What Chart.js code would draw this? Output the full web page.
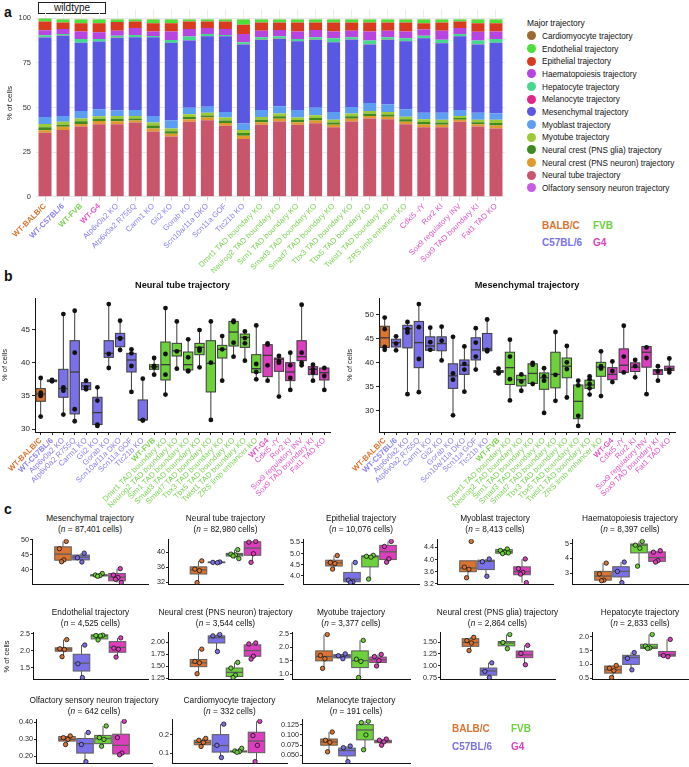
<!DOCTYPE html>
<html>
<head>
<meta charset="utf-8">
<script src="https://cdn.jsdelivr.net/npm/chart.js@4.4.1/dist/chart.umd.min.js"></script>
<style>
  body { margin: 0; width: 689px; height: 767px; position: relative; overflow: hidden; background: #fff;
         font-family: 'Liberation Sans', Arial, Helvetica, sans-serif; color: #111; }
  canvas { position: absolute; }
  .abs { position: absolute; white-space: nowrap; }
  .panel { font-weight: bold; font-size: 14px; }
  .lg { position: absolute; left: 527px; font-size: 8.2px; line-height: 10px; white-space: nowrap; }
  .dot { display: inline-block; width: 9px; height: 9px; border-radius: 50%; vertical-align: middle; margin-right: 6px; position: relative; top: -1px; }
  .strain { position: absolute; font-weight: bold; font-size: 10px; }
  .ctitle { position: absolute; width: 200px; text-align: center; font-size: 8.3px; line-height: 10.5px; }
  .btitle { position: absolute; width: 240px; text-align: center; font-size: 9.2px; font-weight: bold; }
  .ylab { position: absolute; font-size: 7.5px; transform: rotate(-90deg); transform-origin: center; white-space: nowrap; }
</style>
</head>
<body>
<div class="abs panel" style="left:4px;top:4px;">a</div>
<div class="abs panel" style="left:4px;top:268px;">b</div>
<div class="abs panel" style="left:4px;top:501px;">c</div>
<div class="abs" style="left:38px;top:2px;width:66px;height:10px;border:1px solid #222;background:#fff;font-size:10px;line-height:10px;text-align:center;">wildtype</div>

<script>
// ---------- shared ----------
const STRAIN_COLORS = { B: '#DA7430', C: '#7A71E8', F: '#6CD13B', G: '#DC3FBE' };
const STRAIN_LABEL_COLORS = { B: '#D9732E', C: '#8A83EE', F: '#7CD455', G: '#E057C6' };

// ---------- panel a ----------
const A_SAMPLES = ['WT-BALB/C', 'WT-C57BL/6', 'WT-FVB', 'WT-G4', 'Atp6v0a2 KO', 'Atp6v0a2 R755Q', 'Carm1 KO', 'Gli2 KO',
  'Gorab KO', 'Scn10a/11a DKO', 'Scn11a GOF', 'Ttc21b KO', 'Dmrt1 TAD boundary KO', 'Neurog2 TAD boundary KO',
  'Sim1 TAD boundary KO', 'Smad3 TAD boundary KO', 'Smad7 TAD boundary KO', 'Tbx3 TAD boundary KO', 'Tbx5 TAD boundary KO',
  'Twist1 TAD boundary KO', 'ZRS limb enhancer KO', 'Cdkl5 -/Y', 'Ror2 KI', 'Sox9 regulatory INV', 'Sox9 TAD boundary KI', 'Fat1 TAD KO'];
const A_STRAIN = ['B', 'C', 'F', 'G', 'C', 'C', 'C', 'C', 'C', 'C', 'C', 'C', 'F', 'F', 'F', 'F', 'F', 'F', 'F', 'F', 'F', 'G', 'G', 'G', 'G', 'G'];

const OLFACTORY = [0.3, 0.3, 0.3, 0.3, 0.3, 0.3, 0.3, 0.3, 0.3, 0.3, 0.3, 0.3, 0.3, 0.3, 0.3, 0.3, 0.3, 0.3, 0.3, 0.3, 0.3, 0.3, 0.3, 0.3, 0.3, 0.3];
const NEURAL_TUBE = [35.5, 37.1, 39.1, 40.4, 40.4, 41.3, 36.3, 33.4, 41.7, 42.6, 39.5, 32.1, 40.0, 41.9, 40.0, 40.9, 38.6, 41.9, 43.5, 43.2, 40.4, 38.6, 38.6, 41.7, 39.1, 38.0];
const NC_NEURON = [1.5, 1.8, 1.4, 1.8, 1.6, 1.2, 1.7, 1.6, 1.5, 1.5, 1.6, 1.8, 1.5, 1.5, 1.4, 1.6, 1.4, 1.5, 1.4, 1.3, 1.4, 1.6, 1.4, 1.1, 1.2, 1.6];
const NC_GLIA = [1.7, 1.2, 1.5, 1.2, 1.4, 1.1, 1.6, 1.4, 1.2, 1.2, 1.4, 1.5, 1.4, 1.4, 1.3, 1.4, 1.3, 1.4, 1.3, 1.3, 1.3, 1.4, 1.3, 1.0, 1.2, 1.5];
const MYOTUBE = [1.8, 1.6, 1.5, 1.4, 1.6, 1.4, 1.7, 1.6, 1.5, 1.5, 1.6, 1.7, 1.5, 1.5, 1.4, 1.5, 1.5, 1.5, 1.5, 1.4, 1.5, 1.6, 1.5, 1.2, 1.3, 1.7];
const MYOBLAST = [3.9, 3.3, 4.2, 3.9, 3.1, 3.3, 3.7, 4.6, 3.7, 3.3, 3.1, 3.7, 3.9, 4.2, 4.2, 4.2, 4.4, 3.7, 4.6, 4.2, 4.1, 3.6, 4.0, 3.3, 4.0, 3.7];
const MESENCHYMAL = [44.6, 45.0, 38.3, 38.0, 40.6, 40.8, 44.1, 43.4, 37.7, 39.6, 42.5, 44.3, 39.3, 37.7, 38.6, 38.0, 39.1, 37.8, 32.8, 36.2, 38.2, 41.8, 39.0, 41.4, 38.3, 39.5];
const MELANOCYTE = [0.1, 0.1, 0.1, 0.1, 0.1, 0.1, 0.1, 0.1, 0.1, 0.1, 0.1, 0.1, 0.1, 0.1, 0.1, 0.1, 0.1, 0.1, 0.1, 0.1, 0.1, 0.1, 0.1, 0.1, 0.1, 0.1];
const HEPATOCYTE = [1.2, 0.8, 2.1, 1.4, 1.2, 1.2, 0.6, 1.5, 2.1, 1.1, 0.6, 1.1, 1.4, 1.4, 1.2, 1.4, 2.2, 1.2, 2.1, 1.4, 1.6, 1.3, 1.9, 1.1, 2.1, 2.1];
const HAEMATOPOIESIS = [2.8, 2.8, 4.2, 3.7, 2.8, 3.9, 2.6, 4.8, 4.2, 3.4, 3.3, 4.6, 3.7, 3.45, 4.2, 4.05, 3.8, 3.7, 5.1, 3.7, 3.8, 3.5, 5.0, 3.4, 4.9, 4.2];
const EPITHELIAL = [4.9, 3.7, 4.6, 5.1, 4.9, 3.6, 4.6, 4.6, 4.2, 3.6, 4.2, 5.2, 4.6, 4.25, 5.0, 4.25, 5.0, 4.6, 5.0, 4.6, 5.0, 3.5, 4.6, 3.6, 4.8, 4.6];
const ENDOTHELIAL = [1.55, 1.7, 2.1, 2.1, 1.4, 1.2, 2.1, 2.1, 1.2, 1.2, 1.2, 3.0, 1.7, 1.7, 1.7, 1.7, 1.7, 1.7, 1.7, 1.7, 1.7, 2.1, 1.7, 1.2, 2.1, 2.1];
const CARDIOMYOCYTE = [0.15, 0.15, 0.15, 0.15, 0.15, 0.15, 0.15, 0.15, 0.15, 0.15, 0.15, 0.15, 0.15, 0.15, 0.15, 0.15, 0.15, 0.15, 0.15, 0.15, 0.15, 0.15, 0.15, 0.15, 0.15, 0.15];

// stacking order bottom -> top, with legend names and colours
const TRAJ_STACK = [
  ['Olfactory sensory neuron trajectory', OLFACTORY, '#C65BE4'],
  ['Neural tube trajectory', NEURAL_TUBE, '#C8556A'],
  ['Neural crest (PNS neuron) trajectory', NC_NEURON, '#E0992B'],
  ['Neural crest (PNS glia) trajectory', NC_GLIA, '#3F8A1F'],
  ['Myotube trajectory', MYOTUBE, '#9ACB34'],
  ['Myoblast trajectory', MYOBLAST, '#5B9EF2'],
  ['Mesenchymal trajectory', MESENCHYMAL, '#5A58E2'],
  ['Melanocyte trajectory', MELANOCYTE, '#E0288A'],
  ['Hepatocyte trajectory', HEPATOCYTE, '#44D98C'],
  ['Haematopoiesis trajectory', HAEMATOPOIESIS, '#B645E2'],
  ['Epithelial trajectory', EPITHELIAL, '#D93B1F'],
  ['Endothelial trajectory', ENDOTHELIAL, '#4EE03A'],
  ['Cardiomyocyte trajectory', CARDIOMYOCYTE, '#9E6A2E']
];

// ---------- panel b ----------
const B_SAMPLES = ['WT-BALB/C', 'WT-C57BL/6', 'Atp6v0a2 KO', 'Atp6v0a2 R755Q', 'Carm1 KO', 'Gli2 KO', 'Gorab KO',
  'Scn10a/11a DKO', 'Scn11a GOF', 'Ttc21b KO', 'WT-FVB', 'Dmrt1 TAD boundary KO', 'Neurog2 TAD boundary KO',
  'Sim1 TAD boundary KO', 'Smad3 TAD boundary KO', 'Smad7 TAD boundary KO', 'Tbx3 TAD boundary KO', 'Tbx5 TAD boundary KO',
  'Twist1 TAD boundary KO', 'ZRS limb enhancer KO', 'WT-G4', 'Cdkl5 -/Y', 'Ror2 KI', 'Sox9 regulatory INV',
  'Sox9 TAD boundary KI', 'Fat1 TAD KO'];
const B_STRAIN = ['B', 'C', 'C', 'C', 'C', 'C', 'C', 'C', 'C', 'C', 'F', 'F', 'F', 'F', 'F', 'F', 'F', 'F', 'F', 'F', 'G', 'G', 'G', 'G', 'G', 'G'];

// [min, q1, median, q3, max]
const NT_BOX = [[31.9, 34.2, 35.3, 36.1, 37.7], [37.1, 37.15, 37.3, 37.4, 37.5], [32.1, 34.8, 36.1, 39.0, 47.3],
  [31.2, 32.3, 38.6, 43.3, 47.8], [35.9, 35.95, 36.5, 37.0, 37.3], [30.5, 30.7, 32.5, 34.8, 36.3], [39.2, 40.8, 41.4, 43.3, 48.8],
  [41.9, 42.4, 43.7, 44.4, 46.3], [35.6, 38.6, 40.4, 41.4, 42.1], [31.3, 31.4, 31.4, 34.4, 37.6], [38.2, 39.0, 39.4, 39.7, 40.8],
  [35.2, 37.4, 39.7, 43.1, 48.2], [39.1, 41.0, 41.8, 42.9, 46.2], [38.7, 38.9, 39.7, 41.6, 43.5], [39.3, 41.2, 42.3, 42.9, 44.9],
  [31.4, 35.6, 39.9, 43.3, 46.2], [37.3, 40.7, 42.0, 42.6, 44.0], [40.9, 42.5, 44.6, 46.2, 46.3], [40.3, 42.3, 43.8, 44.3, 44.7],
  [37.5, 38.5, 39.1, 41.2, 45.6], [37.3, 37.9, 41.1, 42.7, 42.9], [34.9, 38.7, 40.5, 40.7, 41.0], [35.9, 37.3, 38.6, 40.0, 41.5],
  [39.6, 40.3, 40.9, 43.3, 48.7], [37.3, 38.2, 39.0, 39.4, 39.7], [35.9, 37.4, 38.5, 39.2, 39.4]];
const NT_PTS = [[37.7, 35.5, 35.1, 35.0, 31.9], [37.4, 37.3, 37.2], [47.3, 36.3, 35.8, 32.2], [47.8, 41.5, 33.0, 31.2],
  [37.3, 36.3, 36.0], [36.3, 34.3, 30.7, 30.5], [48.8, 41.3, 39.2], [46.3, 43.7, 43.6, 41.9], [42.0, 41.4, 39.5, 35.6],
  [37.6, 31.4, 31.3], [40.7, 39.5, 39.3, 38.2], [48.2, 41.3, 38.2, 35.2], [46.2, 41.7, 39.1], [43.5, 40.8, 38.8, 38.7],
  [44.9, 42.1, 41.8, 39.3], [46.2, 40.0, 31.4], [44.0, 42.0, 37.3], [46.3, 46.1, 43.0, 40.9], [44.7, 43.7, 42.9, 40.3],
  [45.6, 39.8, 38.6, 37.5], [42.9, 42.7, 39.6, 37.3], [41.0, 40.2, 40.0, 34.9], [41.5, 39.6, 37.7, 35.9], [48.7, 41.5, 40.0, 39.6],
  [39.7, 39.0, 38.5, 37.3], [39.2, 38.0, 35.9]];

const MES_BOX = [[42.7, 43.2, 45.2, 47.6, 49.4], [42.6, 43.3, 44.2, 44.9, 45.5], [33.5, 43.1, 47.1, 47.8, 48.5],
  [33.9, 39.0, 44.2, 48.6, 52.2], [42.5, 42.6, 43.5, 45.4, 47.3], [40.5, 42.5, 44.0, 45.4, 47.6], [29.1, 34.7, 37.3, 39.8, 45.6],
  [34.0, 37.6, 39.5, 40.6, 43.5], [38.6, 40.6, 42.7, 45.2, 47.3], [42.2, 42.5, 42.9, 46.1, 49.2], [37.8, 38.0, 38.2, 38.4, 38.9],
  [32.2, 35.5, 39.0, 42.2, 44.9], [34.2, 35.2, 36.5, 37.4, 38.0], [35.6, 35.7, 37.8, 39.8, 40.1], [29.6, 34.5, 36.9, 37.9, 38.9],
  [32.1, 34.8, 37.6, 42.2, 46.6], [32.9, 36.9, 39.3, 41.0, 43.7], [27.0, 28.4, 32.0, 35.4, 36.4], [33.3, 34.7, 35.4, 36.4, 37.2],
  [33.1, 37.2, 39.1, 40.1, 42.5], [36.1, 36.5, 37.6, 39.0, 40.5], [37.9, 38.0, 39.5, 42.9, 47.8], [36.9, 38.2, 39.1, 40.0, 40.8],
  [33.5, 39.1, 42.2, 43.4, 43.5], [36.3, 37.6, 38.4, 38.6, 39.5], [38.1, 38.4, 38.8, 39.3, 41.0]];
const MES_PTS = [[49.4, 47.0, 43.3, 42.7], [45.5, 44.0, 42.6], [48.5, 47.0, 46.3, 33.5], [52.2, 47.4, 40.8, 33.9],
  [47.3, 44.3, 42.7], [47.5, 44.6, 40.5], [45.4, 37.8, 36.5, 29.1], [43.4, 39.8, 38.6, 34.0], [47.2, 44.2, 41.3, 38.6],
  [49.0, 42.7, 42.4], [38.8, 38.0, 37.8], [44.8, 41.3, 36.6, 32.2], [37.6, 36.1, 34.2], [40.0, 39.6, 35.6],
  [38.9, 37.2, 36.3, 29.6], [46.4, 37.5, 32.1], [43.5, 40.1, 38.7, 32.8], [36.3, 35.3, 29.0, 26.9], [37.2, 36.6, 35.6, 34.7, 33.4],
  [42.4, 39.3, 38.8, 33.1], [40.3, 38.3, 36.0], [47.7, 41.3, 38.0], [40.6, 39.3, 37.0], [43.2, 41.0, 33.5], [39.3, 38.2, 36.3],
  [40.9, 38.6, 38.0]];

// ---------- panel c (groups: BALB/C, C57BL/6, FVB, G4) ----------
const C_GROUPS = ['B', 'C', 'F', 'G'];
const C_TITLES = ['Mesenchymal trajectory', 'Neural tube trajectory', 'Epithelial trajectory', 'Myoblast trajectory',
  'Haematopoiesis trajectory', 'Endothelial trajectory', 'Neural crest (PNS neuron) trajectory', 'Myotube trajectory',
  'Neural crest (PNS glia) trajectory', 'Hepatocyte trajectory', 'Olfactory sensory neuron trajectory',
  'Cardiomyocyte trajectory', 'Melanocyte trajectory'];
const C_CELLS = ['87,401', '82,980', '10,076', '8,413', '8,397', '4,525', '3,544', '3,377', '2,864', '2,833', '642', '332', '191'];
const C_STEPS = [5, 4, 0.5, 0.4, 1, 0.5, 0.25, 0.5, 0.25, 0.5, 0.05, 0.1, 0.025];
const C_DECIMALS = [0, 0, 1, 1, 0, 1, 2, 1, 2, 1, 2, 1, 3];

const MES_C_BOX = [[42.7, 43.2, 45.2, 47.6, 49.4], [42.6, 43.3, 44.2, 44.9, 45.5], [37.9, 38.0, 38.2, 38.4, 38.8], [35.8, 36.4, 37.6, 38.8, 40.4]];
const MES_C_PTS = [[49.4, 47.0, 43.3, 42.7], [45.5, 44.0, 42.6], [38.8, 38.3, 38.1, 37.9], [40.4, 38.3, 37.5, 36.9, 35.8]];
const NT_C_BOX = [[31.9, 34.2, 35.3, 36.1, 37.7], [37.2, 37.2, 37.3, 37.4, 37.4], [38.3, 39.0, 39.4, 39.7, 40.7], [37.3, 39.2, 41.1, 42.8, 42.9]];
const NT_C_PTS = [[37.7, 35.5, 35.1, 31.9], [37.4, 37.3, 37.2], [40.7, 39.5, 39.3, 39.0, 38.3], [42.9, 42.7, 39.6, 37.3]];
const EPI_C_BOX = [[4.3, 4.44, 4.58, 4.7, 4.91], [3.69, 3.73, 3.85, 4.15, 4.6], [3.85, 4.4, 4.86, 4.9, 4.92], [4.61, 4.73, 5.08, 5.37, 5.55]];
const EPI_C_PTS = [[4.91, 4.6, 4.55, 4.3], [4.6, 3.8, 3.72, 3.69], [4.92, 4.88, 4.84, 3.85], [5.55, 5.32, 4.76, 4.61]];
const MYOB_C_BOX = [[3.4, 3.6, 3.72, 3.96, 3.96], [3.45, 3.67, 3.94, 3.98, 4.02], [4.2, 4.21, 4.26, 4.33, 4.35], [3.24, 3.5, 3.6, 3.76, 4.02]];
const MYOB_C_PTS = [[4.6, 3.75, 3.68, 3.4], [4.02, 3.93, 3.45], [4.35, 4.3, 4.24, 4.2, 4.22], [4.02, 3.7, 3.58, 3.52, 3.24]];
const HAEM_C_BOX = [[2.47, 2.51, 2.79, 3.11, 3.68], [2.34, 2.73, 3.11, 3.43, 3.75], [3.47, 4.38, 4.91, 4.99, 5.17], [3.75, 3.8, 4.06, 4.45, 4.53]];
const HAEM_C_PTS = [[3.68, 2.94, 2.51, 2.47], [3.75, 3.11, 2.34], [5.17, 4.91, 4.7, 3.47], [4.53, 4.43, 3.85, 3.75]];
const ENDO_C_BOX = [[1.83, 1.99, 2.05, 2.09, 2.33], [1.22, 1.41, 1.64, 1.9, 2.17], [2.32, 2.35, 2.44, 2.47, 2.48], [1.82, 1.96, 2.1, 2.27, 2.38]];
const ENDO_C_PTS = [[2.33, 2.06, 2.04, 1.83], [2.17, 1.62, 1.22], [2.46, 2.45, 2.44, 2.32], [2.38, 2.08, 2.05, 1.82]];
const NEUR_C_BOX = [[1.34, 1.49, 1.57, 1.64, 1.86], [1.81, 1.99, 2.1, 2.14, 2.17], [1.26, 1.28, 1.37, 1.46, 1.58], [1.65, 1.71, 1.83, 1.95, 1.99]];
const NEUR_C_PTS = [[1.86, 1.6, 1.57, 1.34], [2.17, 2.14, 1.81], [1.58, 1.46, 1.31, 1.26], [1.99, 1.97, 1.71, 1.65]];
const MYOT_C_BOX = [[1.21, 1.49, 1.65, 1.86, 2.47], [1.55, 1.6, 1.67, 1.72, 1.75], [0.87, 1.24, 1.5, 1.86, 2.25], [1.3, 1.43, 1.53, 1.63, 1.73]];
const MYOT_C_PTS = [[2.47, 1.69, 1.57, 1.21], [1.75, 1.68, 1.57], [2.25, 1.55, 1.47, 0.87], [1.73, 1.65, 1.5, 1.3]];
const GLIA_C_BOX = [[1.32, 1.41, 1.49, 1.57, 1.6], [0.75, 0.8, 0.89, 0.95, 1.06], [1.36, 1.42, 1.48, 1.51, 1.66], [1.02, 1.17, 1.23, 1.31, 1.43]];
const GLIA_C_PTS = [[1.6, 1.53, 1.48, 1.32], [1.06, 0.88, 0.75], [1.66, 1.49, 1.36], [1.43, 1.26, 1.02]];
const HEP_C_BOX = [[0.52, 0.68, 0.8, 0.94, 0.96], [0.8, 1.0, 1.25, 1.33, 1.43], [1.57, 1.58, 1.63, 1.73, 2.09], [1.28, 1.3, 1.35, 1.47, 1.91]];
const HEP_C_PTS = [[0.96, 0.86, 0.77, 0.52], [1.43, 1.22, 0.8], [2.09, 1.67, 1.6, 1.58], [1.91, 1.32, 1.28]];
const OLF_C_BOX = [[0.27, 0.29, 0.3, 0.316, 0.32], [0.17, 0.22, 0.275, 0.305, 0.34], [0.26, 0.275, 0.305, 0.323, 0.378], [0.21, 0.215, 0.265, 0.33, 0.405]];
const OLF_C_PTS = [[0.32, 0.31, 0.3, 0.27], [0.34, 0.27, 0.17], [0.378, 0.31, 0.3, 0.26], [0.405, 0.31, 0.22, 0.21]];
const CARD_C_BOX = [[0.137, 0.146, 0.158, 0.17, 0.18], [0.078, 0.107, 0.142, 0.2, 0.256], [0.105, 0.108, 0.11, 0.113, 0.127], [0.056, 0.104, 0.166, 0.213, 0.271]];
const CARD_C_PTS = [[0.18, 0.17, 0.158, 0.137], [0.256, 0.143, 0.078], [0.127, 0.113, 0.11, 0.106], [0.271, 0.195, 0.143, 0.056]];
const MEL_C_BOX = [[0.059, 0.075, 0.083, 0.09, 0.107], [0.035, 0.049, 0.062, 0.068, 0.073], [0.064, 0.088, 0.112, 0.125, 0.133], [0.075, 0.081, 0.084, 0.087, 0.09]];
const MEL_C_PTS = [[0.107, 0.087, 0.082, 0.059], [0.073, 0.069, 0.035], [0.133, 0.13, 0.1, 0.064], [0.09, 0.087, 0.083, 0.075]];

const C_BOXES = [MES_C_BOX, NT_C_BOX, EPI_C_BOX, MYOB_C_BOX, HAEM_C_BOX, ENDO_C_BOX, NEUR_C_BOX, MYOT_C_BOX, GLIA_C_BOX, HEP_C_BOX, OLF_C_BOX, CARD_C_BOX, MEL_C_BOX];
const C_POINTS = [MES_C_PTS, NT_C_PTS, EPI_C_PTS, MYOB_C_PTS, HAEM_C_PTS, ENDO_C_PTS, NEUR_C_PTS, MYOT_C_PTS, GLIA_C_PTS, HEP_C_PTS, OLF_C_PTS, CARD_C_PTS, MEL_C_PTS];
const JITTER = [0.18, -0.2, 0.05, -0.08, 0.24];

// ---------- helpers ----------
Chart.defaults.font.family = "'Liberation Sans', Arial, Helvetica, sans-serif";
Chart.defaults.color = '#222';

function addCanvas(left, top, w, h) {
  const c = document.createElement('canvas');
  c.width = w; c.height = h;
  c.style.left = left + 'px'; c.style.top = top + 'px';
  c.style.width = w + 'px'; c.style.height = h + 'px';
  document.body.appendChild(c);
  return c;
}
function addDiv(cls, left, top, html, style) {
  const d = document.createElement('div');
  d.className = cls;
  d.style.left = left + 'px'; d.style.top = top + 'px';
  if (style) d.style.cssText += style;
  d.innerHTML = html;
  document.body.appendChild(d);
  return d;
}
// ggplot-like 5% expansion of the y range
function expanded(boxes, pts) {
  const all = boxes.flat().concat(pts.flat());
  const lo = Math.min(...all), hi = Math.max(...all), r = hi - lo;
  return [lo - 0.05 * r, hi + 0.05 * r];
}

// draws whiskers, boxes and medians through the chart scales
function boxLayer(boxes, fills, width, edge) {
  return {
    id: 'boxLayer',
    beforeDatasetsDraw(chart) {
      const { ctx, scales: { x, y } } = chart;
      ctx.save();
      boxes.forEach((b, i) => {
        const cx = x.getPixelForValue(i);
        const half = Math.abs(x.getPixelForValue(i + width / 2) - cx);
        const [mn, q1, md, q3, mx] = b.map(v => y.getPixelForValue(v));
        ctx.strokeStyle = edge; ctx.lineWidth = 1;
        ctx.beginPath();
        ctx.moveTo(cx, mn); ctx.lineTo(cx, q1);
        ctx.moveTo(cx, q3); ctx.lineTo(cx, mx);
        ctx.stroke();
        ctx.fillStyle = fills[i];
        ctx.fillRect(cx - half, q3, half * 2, q1 - q3);
        ctx.strokeRect(cx - half, q3, half * 2, Math.max(q1 - q3, 0.5));
        ctx.lineWidth = 1.3;
        ctx.beginPath(); ctx.moveTo(cx - half, md); ctx.lineTo(cx + half, md); ctx.stroke();
      });
      ctx.restore();
    }
  };
}

// ---------- panel a chart ----------
(function () {
  const cv = addCanvas(0, 0, 520, 276);
  new Chart(cv, {
    type: 'bar',
    data: {
      labels: A_SAMPLES,
      datasets: TRAJ_STACK.map(([name, vals, col]) => ({
        label: name, data: vals, backgroundColor: col, borderWidth: 0,
        barPercentage: 0.72, categoryPercentage: 1
      }))
    },
    options: {
      responsive: false, animation: false, devicePixelRatio: 1,
      layout: { padding: { top: 5.6, right: 15, left: 5, bottom: 0 } },
      plugins: { legend: { display: false }, tooltip: { enabled: false } },
      scales: {
        x: {
          stacked: true,
          grid: { offset: false, color: '#ececec', tickColor: '#cfcfcf', tickLength: 4 },
          border: { display: false },
          ticks: {
            autoSkip: false, maxRotation: 45, minRotation: 45, padding: 1,
            color: ctx => STRAIN_LABEL_COLORS[A_STRAIN[ctx.index]],
            font: ctx => ({ size: 7.8, weight: A_SAMPLES[ctx.index].startsWith('WT') ? 'bold' : 'normal' })
          },
          afterFit: s => { s.height = 79.3; }
        },
        y: {
          stacked: true, min: 0, max: 105,
          grid: { color: ctx => (ctx.tick.value % 25 === 0 ? '#e8e8e8' : '#f4f4f4'), drawTicks: false },
          border: { display: false },
          ticks: {
            stepSize: 12.5, includeBounds: false, padding: 5, color: '#333', font: { size: 7.5 },
            callback: v => (v % 25 === 0 ? v : '')
          },
          title: { display: true, text: '% of cells', font: { size: 8 }, color: '#222', padding: 0 },
          afterFit: s => { s.width = 31; }
        }
      }
    }
  });
})();

// legend for panel a
addDiv('abs', 527, 18, 'Major trajectory', 'font-size:8.4px;');
TRAJ_STACK.slice().sort((a, b) => a[0].localeCompare(b[0])).forEach(([name, , col], i) => {
  addDiv('lg', 527, 32 + i * 12.67, '<span class="dot" style="background:' + col + '"></span>' + name);
});
addDiv('strain', 542, 220, 'BALB/C', 'color:' + STRAIN_COLORS.B);
addDiv('strain', 593, 220, 'FVB', 'color:' + STRAIN_COLORS.F);
addDiv('strain', 542, 237, 'C57BL/6', 'color:' + STRAIN_COLORS.C);
addDiv('strain', 593, 237, 'G4', 'color:' + STRAIN_COLORS.G);

// ---------- panel b charts ----------
function panelB(left, title, boxes, pts, plotL, plotR) {
  const W = 345, H = 236, top = 275;
  const cv = addCanvas(left, top, W, H);
  const [lo, hi] = expanded(boxes, pts);
  const pointData = [];
  pts.forEach((arr, i) => arr.forEach(v => pointData.push({ x: B_SAMPLES[i], y: v })));
  addDiv('btitle', left + (plotL + plotR) / 2 - 120, 280, title);
  new Chart(cv, {
    type: 'scatter',
    data: {
      labels: B_SAMPLES,
      datasets: [{ data: pointData, backgroundColor: '#111', borderWidth: 0, pointRadius: 2.4 }]
    },
    plugins: [boxLayer(boxes, B_STRAIN.map(s => STRAIN_COLORS[s]), 0.82, '#3a3a3a')],
    options: {
      responsive: false, animation: false, devicePixelRatio: 1,
      layout: { padding: { top: 23, right: W - plotR, left: 0, bottom: 0 } },
      plugins: { legend: { display: false }, tooltip: { enabled: false } },
      scales: {
        x: {
          type: 'category', labels: B_SAMPLES, offset: true,
          grid: { drawOnChartArea: false, color: '#222', tickLength: 3 },
          border: { color: '#111', width: 1 },
          ticks: {
            autoSkip: false, maxRotation: 45, minRotation: 45, padding: 1,
            color: ctx => STRAIN_LABEL_COLORS[B_STRAIN[ctx.index]],
            font: ctx => ({ size: 7.8, weight: B_SAMPLES[ctx.index].startsWith('WT') ? 'bold' : 'normal' })
          },
          afterFit: s => { s.height = H - 23 - 134; }
        },
        y: {
          min: lo, max: hi,
          grid: { drawOnChartArea: false, color: '#222', tickLength: 3 },
          border: { color: '#111', width: 1 },
          ticks: { stepSize: 5, includeBounds: false, padding: 2, color: '#222', font: { size: 8 } },
          title: { display: true, text: '% of cells', font: { size: 7.5 }, color: '#222', padding: 0 },
          afterFit: s => { s.width = plotL; }
        }
      }
    }
  });
}
panelB(0, 'Neural tube trajectory', NT_BOX, NT_PTS, 35, 330);
panelB(345, 'Mesenchymal trajectory', MES_BOX, MES_PTS, 34, 330);

// ---------- panel c charts ----------
const C_LAYOUT = [
  [32, 148, 538, 586, 513], [168, 283, 538, 586, 513], [303, 419, 538, 586, 513], [437, 553, 538, 586, 513], [572, 688, 538, 586, 513],
  [33, 148, 631, 681, 607], [168, 283, 631, 681, 607], [292, 410, 631, 681, 607], [440, 555, 631, 681, 607], [592, 688, 631, 681, 607],
  [36, 152, 718, 765, 695], [172, 287, 718, 765, 695], [302, 410, 718, 765, 695]
];
C_TITLES.forEach((title, k) => {
  const [L, R, T, B, ty] = C_LAYOUT[k];
  const boxes = C_BOXES[k], pts = C_POINTS[k];
  const [lo, hi] = expanded(boxes, pts);
  const half = (R - L) / 2 / 18;
  const cv = addCanvas(L - 30, T - 4, R - L + 36, B - T + 8);
  addDiv('ctitle', (L + R) / 2 - 100, ty, title + '<br>(<i>n</i> = ' + C_CELLS[k] + ' cells)');
  new Chart(cv, {
    type: 'scatter',
    data: {
      datasets: C_GROUPS.map((g, gi) => ({
        data: pts[gi].map((v, j) => ({ x: gi + JITTER[j], y: v })),
        backgroundColor: STRAIN_COLORS[g], borderColor: '#111', borderWidth: 0.8, pointRadius: 2.2
      }))
    },
    plugins: [boxLayer(boxes, C_GROUPS.map(g => STRAIN_COLORS[g]), 0.92, '#5c5c5c')],
    options: {
      responsive: false, animation: false, devicePixelRatio: 1,
      layout: { padding: { top: 4, right: 6, left: 0, bottom: 4 } },
      plugins: { legend: { display: false }, tooltip: { enabled: false } },
      scales: {
        x: {
          type: 'linear', min: 1.5 - half, max: 1.5 + half,
          grid: { display: false }, ticks: { display: false },
          border: { color: '#111', width: 1 },
          afterFit: s => { s.height = 0; }
        },
        y: {
          min: lo, max: hi,
          grid: { drawOnChartArea: false, color: '#222', tickLength: 2 },
          border: { color: '#111', width: 1 },
          ticks: {
            stepSize: C_STEPS[k], includeBounds: false, padding: 1, color: '#222', font: { size: 7.2 },
            callback: v => v.toFixed(C_DECIMALS[k])
          },
          afterFit: s => { s.width = 30; }
        }
      }
    }
  });
});
addDiv('ylab', -10, 652, '% of cells');
addDiv('strain', 452, 723, 'BALB/C', 'color:' + STRAIN_COLORS.B);
addDiv('strain', 511, 723, 'FVB', 'color:' + STRAIN_COLORS.F);
addDiv('strain', 452, 741, 'C57BL/6', 'color:' + STRAIN_COLORS.C);
addDiv('strain', 511, 741, 'G4', 'color:' + STRAIN_COLORS.G);
</script>
</body>
</html>
